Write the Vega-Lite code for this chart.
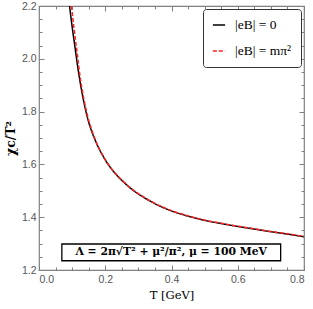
{
  "$schema": "https://vega.github.io/schema/vega-lite/v6.json",
  "width": 265,
  "height": 264,
  "autosize": {"type": "none"},
  "padding": {"left": 39, "top": 6, "right": 9, "bottom": 39},
  "background": "white",
  "config": {
    "view": {"stroke": "#808080", "strokeWidth": 1.2},
    "axis": {
      "domain": false, "grid": false, "tickColor": "#808080", "tickWidth": 1,
      "labelColor": "#555555", "labelFont": "Liberation Sans", "labelFontSize": 10.5,
      "titleFont": "DejaVu Serif", "titleColor": "#000000", "titleFontWeight": "normal"
    },
    "legend": {
      "orient": "top-right", "offset": 3, "strokeColor": "#333333", "cornerRadius": 3,
      "fillColor": "white", "padding": 9, "symbolType": "stroke", "symbolStrokeWidth": 1.5,
      "symbolSize": 150, "labelFont": "Liberation Serif", "labelFontSize": 13.5, "labelColor": "#000000",
      "rowPadding": 12, "labelOffset": 9
    }
  },
  "datasets": {
    "curves": [
      {"T": 0.0922, "chi": 2.200, "series": "|eB| = 0"},
      {"T": 0.096, "chi": 2.161, "series": "|eB| = 0"},
      {"T": 0.100, "chi": 2.122, "series": "|eB| = 0"},
      {"T": 0.105, "chi": 2.076, "series": "|eB| = 0"},
      {"T": 0.110, "chi": 2.032, "series": "|eB| = 0"},
      {"T": 0.115, "chi": 1.986, "series": "|eB| = 0"},
      {"T": 0.120, "chi": 1.944, "series": "|eB| = 0"},
      {"T": 0.125, "chi": 1.906, "series": "|eB| = 0"},
      {"T": 0.130, "chi": 1.871, "series": "|eB| = 0"},
      {"T": 0.135, "chi": 1.839, "series": "|eB| = 0"},
      {"T": 0.140, "chi": 1.810, "series": "|eB| = 0"},
      {"T": 0.145, "chi": 1.783, "series": "|eB| = 0"},
      {"T": 0.150, "chi": 1.760, "series": "|eB| = 0"},
      {"T": 0.160, "chi": 1.722, "series": "|eB| = 0"},
      {"T": 0.170, "chi": 1.691, "series": "|eB| = 0"},
      {"T": 0.180, "chi": 1.663, "series": "|eB| = 0"},
      {"T": 0.190, "chi": 1.639, "series": "|eB| = 0"},
      {"T": 0.200, "chi": 1.617, "series": "|eB| = 0"},
      {"T": 0.220, "chi": 1.581, "series": "|eB| = 0"},
      {"T": 0.240, "chi": 1.552, "series": "|eB| = 0"},
      {"T": 0.260, "chi": 1.528, "series": "|eB| = 0"},
      {"T": 0.280, "chi": 1.506, "series": "|eB| = 0"},
      {"T": 0.300, "chi": 1.488, "series": "|eB| = 0"},
      {"T": 0.330, "chi": 1.465, "series": "|eB| = 0"},
      {"T": 0.360, "chi": 1.445, "series": "|eB| = 0"},
      {"T": 0.400, "chi": 1.424, "series": "|eB| = 0"},
      {"T": 0.450, "chi": 1.404, "series": "|eB| = 0"},
      {"T": 0.500, "chi": 1.388, "series": "|eB| = 0"},
      {"T": 0.550, "chi": 1.376, "series": "|eB| = 0"},
      {"T": 0.600, "chi": 1.365, "series": "|eB| = 0"},
      {"T": 0.650, "chi": 1.355, "series": "|eB| = 0"},
      {"T": 0.700, "chi": 1.345, "series": "|eB| = 0"},
      {"T": 0.750, "chi": 1.336, "series": "|eB| = 0"},
      {"T": 0.800, "chi": 1.326, "series": "|eB| = 0"},
      {"T": 0.0983, "chi": 2.200, "series": "|eB| = mπ²"},
      {"T": 0.102, "chi": 2.156, "series": "|eB| = mπ²"},
      {"T": 0.106, "chi": 2.113, "series": "|eB| = mπ²"},
      {"T": 0.110, "chi": 2.072, "series": "|eB| = mπ²"},
      {"T": 0.115, "chi": 2.023, "series": "|eB| = mπ²"},
      {"T": 0.120, "chi": 1.971, "series": "|eB| = mπ²"},
      {"T": 0.125, "chi": 1.923, "series": "|eB| = mπ²"},
      {"T": 0.130, "chi": 1.885, "series": "|eB| = mπ²"},
      {"T": 0.140, "chi": 1.819, "series": "|eB| = mπ²"},
      {"T": 0.150, "chi": 1.767, "series": "|eB| = mπ²"},
      {"T": 0.160, "chi": 1.727, "series": "|eB| = mπ²"},
      {"T": 0.170, "chi": 1.693, "series": "|eB| = mπ²"},
      {"T": 0.180, "chi": 1.664, "series": "|eB| = mπ²"},
      {"T": 0.190, "chi": 1.640, "series": "|eB| = mπ²"},
      {"T": 0.200, "chi": 1.618, "series": "|eB| = mπ²"},
      {"T": 0.220, "chi": 1.582, "series": "|eB| = mπ²"},
      {"T": 0.240, "chi": 1.553, "series": "|eB| = mπ²"},
      {"T": 0.260, "chi": 1.529, "series": "|eB| = mπ²"},
      {"T": 0.280, "chi": 1.507, "series": "|eB| = mπ²"},
      {"T": 0.300, "chi": 1.489, "series": "|eB| = mπ²"},
      {"T": 0.330, "chi": 1.466, "series": "|eB| = mπ²"},
      {"T": 0.360, "chi": 1.446, "series": "|eB| = mπ²"},
      {"T": 0.400, "chi": 1.425, "series": "|eB| = mπ²"},
      {"T": 0.450, "chi": 1.405, "series": "|eB| = mπ²"},
      {"T": 0.500, "chi": 1.389, "series": "|eB| = mπ²"},
      {"T": 0.550, "chi": 1.377, "series": "|eB| = mπ²"},
      {"T": 0.600, "chi": 1.366, "series": "|eB| = mπ²"},
      {"T": 0.650, "chi": 1.356, "series": "|eB| = mπ²"},
      {"T": 0.700, "chi": 1.346, "series": "|eB| = mπ²"},
      {"T": 0.750, "chi": 1.337, "series": "|eB| = mπ²"},
      {"T": 0.800, "chi": 1.327, "series": "|eB| = mπ²"}
    ]
  },
  "layer": [
    {
      "data": {"name": "curves"},
      "transform": [{"filter": "datum.series === '|eB| = 0'"}],
      "mark": {"type": "line", "interpolate": "monotone", "clip": true, "strokeWidth": 1.5},
      "encoding": {
        "x": {"field": "T", "type": "quantitative", "scale": {"domain": [0, 0.8], "nice": false, "zero": false},
              "axis": {"orient": "bottom", "values": [0, 0.2, 0.4, 0.6, 0.8], "format": ".1f", "tickSize": -5, "labelPadding": 9,
                       "title": "T [GeV]", "titleFontSize": 11.5, "titlePadding": 5}},
        "y": {"field": "chi", "type": "quantitative", "scale": {"domain": [1.2, 2.2], "nice": false, "zero": false},
              "axis": {"orient": "left", "values": [1.2, 1.4, 1.6, 1.8, 2.0, 2.2], "format": ".1f", "tickSize": -5, "labelPadding": 8,
                       "title": "χc/T²", "titleFontSize": 12.5, "titleFontWeight": "bold", "titlePadding": 4}},
        "color": {"field": "series", "type": "nominal", "scale": {"domain": ["|eB| = 0", "|eB| = mπ²"], "range": ["#000000", "#ff2020"]}, "legend": {"title": null}},
        "strokeDash": {"field": "series", "type": "nominal", "scale": {"domain": ["|eB| = 0", "|eB| = mπ²"], "range": [[1, 0], [4, 2]]}, "legend": {"title": null}}
      }
    },
    {
      "data": {"name": "curves"},
      "transform": [{"filter": "datum.series !== '|eB| = 0'"}],
      "mark": {"type": "line", "interpolate": "monotone", "clip": true, "strokeWidth": 1.5},
      "encoding": {
        "x": {"field": "T", "type": "quantitative",
              "axis": {"orient": "bottom", "values": [0.05, 0.1, 0.15, 0.25, 0.3, 0.35, 0.45, 0.5, 0.55, 0.65, 0.7, 0.75], "labels": false, "tickSize": -3, "title": null}},
        "y": {"field": "chi", "type": "quantitative",
              "axis": {"orient": "left", "values": [1.25, 1.3, 1.35, 1.45, 1.5, 1.55, 1.65, 1.7, 1.75, 1.85, 1.9, 1.95, 2.05, 2.1, 2.15], "labels": false, "tickSize": -3, "title": null}},
        "color": {"field": "series", "type": "nominal", "legend": {"title": null}},
        "strokeDash": {"field": "series", "type": "nominal", "legend": {"title": null}}
      }
    },
    {
      "data": {"values": [{}]},
      "mark": {"type": "rect", "fill": "white", "stroke": "#000000", "strokeWidth": 1.3},
      "encoding": {
        "x": {"datum": 0.069, "type": "quantitative",
              "axis": {"orient": "top", "values": [0, 0.2, 0.4, 0.6, 0.8], "labels": false, "tickSize": -5, "title": null}},
        "x2": {"datum": 0.7295},
        "y": {"datum": 1.2985, "type": "quantitative",
              "axis": {"orient": "right", "values": [1.2, 1.4, 1.6, 1.8, 2.0, 2.2], "labels": false, "tickSize": -5, "title": null}},
        "y2": {"datum": 1.235}
      }
    },
    {
      "data": {"values": [{}]},
      "mark": {"type": "text", "font": "DejaVu Serif", "fontWeight": "bold", "fontSize": 10.8, "color": "#000000", "align": "center", "baseline": "middle"},
      "encoding": {
        "x": {"datum": 0.399, "type": "quantitative",
              "axis": {"orient": "top", "values": [0.05, 0.1, 0.15, 0.25, 0.3, 0.35, 0.45, 0.5, 0.55, 0.65, 0.7, 0.75], "labels": false, "tickSize": -3, "title": null}},
        "y": {"datum": 1.267, "type": "quantitative",
              "axis": {"orient": "right", "values": [1.25, 1.3, 1.35, 1.45, 1.5, 1.55, 1.65, 1.7, 1.75, 1.85, 1.9, 1.95, 2.05, 2.1, 2.15], "labels": false, "tickSize": -3, "title": null}},
        "text": {"value": "Λ = 2π√T² + μ²/π², μ = 100 MeV"}
      }
    }
  ],
  "resolve": {"axis": {"x": "independent", "y": "independent"}}
}
